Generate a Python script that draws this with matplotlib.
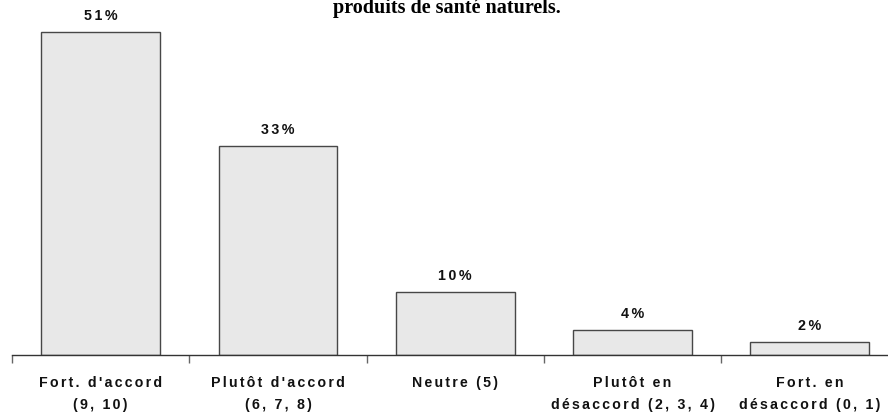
import matplotlib
matplotlib.use("Agg")
import matplotlib.pyplot as plt
import numpy as np

# ── Data ─────────────────────────────────────────────────────────────────────

categories = [
    "Fort. d'accord\n(9, 10)",
    "Plutôt d'accord\n(6, 7, 8)",
    "Neutre (5)",
    "Plutôt en\ndésaccord (2, 3, 4)",
    "Fort. en\ndésaccord (0, 1)",
]
values = [51, 33, 10, 4, 2]
value_labels = ["51%", "33%", "10%", "4%", "2%"]
title_line = "produits de santé naturels."

FONTS = ["Liberation Sans", "DejaVu Sans"]


def spaced(text):
    """Loose letter spacing, as in the original chart (two hair spaces)."""
    gap = "\u200a\u200a"
    return "\n".join(gap.join(line) for line in text.split("\n"))


# ── Figure ───────────────────────────────────────────────────────────────────

W, H = 888, 415
fig = plt.figure(figsize=(W / 100, H / 100), dpi=100)
# axis runs a bit past the right edge of the picture
ax = fig.add_axes([12 / W, 60 / H, 886.5 / W, 348 / H])

x = np.arange(len(values))
ax.bar(x, values, width=0.67, color="#e8e8e8", edgecolor="#474747", linewidth=1.0)

ax.set_xlim(-0.5, len(values) - 0.5)
ax.set_ylim(0, 55)

for xi, v, lab in zip(x, values, value_labels):
    ax.annotate(spaced(lab), (xi, v), xytext=(0, 9), textcoords="offset pixels",
                ha="center", va="bottom", fontsize=10.3, fontweight="bold",
                family=FONTS, color="#111111")

for s in ("top", "right", "left"):
    ax.spines[s].set_visible(False)
ax.spines["bottom"].set_color("#333333")
ax.spines["bottom"].set_linewidth(1.0)
ax.set_yticks([])

# boundary ticks
ax.set_xticks(np.arange(len(values)) - 0.5)
ax.set_xticklabels([])
ax.tick_params(axis="x", which="major", length=6, width=1, color="#666666", direction="out")
# category labels
ax.set_xticks(x, minor=True)
ax.set_xticklabels([spaced(c) for c in categories], minor=True, fontsize=10.2,
                   fontweight="bold", family=FONTS, linespacing=1.75, color="#111111")
ax.tick_params(axis="x", which="minor", length=0, pad=15)

fig.text(447 / W, 1 - 13.5 / H, title_line, ha="center", va="baseline",
         fontsize=14.5, fontweight="bold", family="Liberation Serif")

fig.savefig("out.png", dpi=100)
